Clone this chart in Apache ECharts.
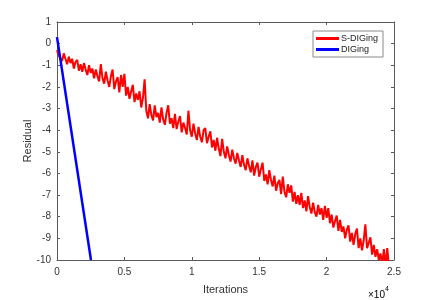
<!DOCTYPE html>
<html>
<head>
<meta charset="utf-8">
<script src="https://cdn.jsdelivr.net/npm/echarts@6/dist/echarts.min.js"></script>
<style>
html,body{margin:0;padding:0;background:#fff;}
#chart{width:436px;height:300px;}
</style>
</head>
<body>
<div id="chart"></div>
<script>
// Sampling step of the S-DIGing curve (iterations between readings)
const sdStep = 125;
// S-DIGing residual readings (log scale), one per sdStep iterations, from 0
const sdigingValues = [
  -0.3, -0.55, -0.5, -0.8, -0.45, -0.7, -0.95, -0.6,
  -0.9, -0.7, -1.15, -0.85, -0.75, -1.25, -0.95, -1.3,
  -0.9, -1.2, -1.45, -1.0, -1.35, -1.15, -1.6, -1.2,
  -1.5, -1.75, -0.95, -1.6, -1.85, -1.3, -1.7, -2.0,
  -1.5, -1.2, -2.1, -1.75, -1.55, -2.25, -1.45, -2.0,
  -1.4, -2.4, -2.0, -2.55, -2.2, -1.9, -2.7, -2.3,
  -2.6, -2.2, -2.95, -2.5, -1.65, -3.1, -3.45, -2.8,
  -3.3, -3.55, -2.85, -3.4, -3.2, -3.65, -2.95, -3.5,
  -3.75, -3.2, -2.85, -3.7, -3.45, -3.9, -3.25, -3.95,
  -3.6, -3.35, -4.1, -3.65, -3.9, -4.2, -3.1, -4.0,
  -4.3, -3.7, -4.15, -4.45, -3.85, -4.3, -4.55, -4.0,
  -3.9, -4.6, -4.3, -4.05, -4.8, -4.45, -4.95, -4.35,
  -4.85, -5.2, -4.4, -5.0, -5.3, -4.75, -5.15, -5.45,
  -4.9, -5.3, -5.55, -5.05, -5.4, -5.7, -5.15, -5.6,
  -5.85, -5.3, -5.65, -5.95, -5.4, -6.1, -5.7, -5.5,
  -6.15, -5.8, -5.5, -6.35, -6.05, -6.5, -5.85, -6.3,
  -6.6, -6.1, -6.8, -6.45, -6.3, -6.95, -6.15, -6.85,
  -7.1, -6.5, -6.9, -6.55, -7.3, -6.85, -7.4, -7.0,
  -7.45, -6.9, -7.6, -7.25, -7.75, -7.05, -7.55, -7.85,
  -7.35, -7.8, -8.0, -7.45, -7.9, -7.6, -8.15, -7.5,
  -8.05, -7.6, -8.3, -7.9, -8.5, -8.2, -7.95, -8.65,
  -8.15, -8.7, -8.45, -9.0, -8.6, -8.4, -9.15, -8.75,
  -9.3, -8.8, -8.55, -9.45, -9.0, -9.55, -9.1, -8.35,
  -9.45, -9.2, -8.95, -9.75, -9.3, -9.85, -9.5, -10.0,
  -9.7, -10.2, -9.5, -10.3, -9.45, -10.3, -10.2
];
// DIGing: straight descent
const digingIters = [0, 2520];
const digingValues = [0.3, -10];

const xTicks = ['0', '0.5', '1', '1.5', '2', '2.5'];
const seriesNames = ['S-DIGing', 'DIGing'];

const sdData = sdigingValues.map((v, i) => [i * sdStep, v]);
const dgData = digingIters.map((x, i) => [x, digingValues[i]]);

const axisCol = '#5a5a5a';
const txtCol = '#333';
const font = 'Liberation Sans, Arial, Helvetica, sans-serif';

const chart = echarts.init(document.getElementById('chart'), null, {renderer: 'canvas'});
chart.setOption({
  animation: false,
  backgroundColor: '#fff',
  grid: {left: 57, right: 42, top: 22, bottom: 32, containLabel: false},
  legend: {
    data: seriesNames,
    orient: 'vertical',
    left: 313, top: 31,
    padding: [3, 5, 3, 3],
    itemGap: 2,
    itemWidth: 23, itemHeight: 3,
    icon: 'rect',
    borderColor: '#8a8a8a', borderWidth: 1,
    backgroundColor: '#fff',
    textStyle: {fontFamily: font, fontSize: 9, color: '#222', padding: [0, 0, 0, -3]}
  },
  xAxis: [{
    type: 'value', min: 0, max: 25000, interval: 5000,
    position: 'bottom',
    name: 'Iterations', nameLocation: 'middle', nameGap: 24,
    nameTextStyle: {fontFamily: font, fontSize: 11, color: txtCol},
    axisLine: {show: true, onZero: false, lineStyle: {color: axisCol, width: 1}},
    axisTick: {show: true, inside: true, length: 3, lineStyle: {color: axisCol}},
    axisLabel: {fontFamily: font, fontSize: 10, color: txtCol, margin: 7,
      formatter: v => xTicks[Math.round(v / 5000)]},
    splitLine: {show: false}
  }, {
    type: 'value', min: 0, max: 25000, interval: 5000,
    position: 'top',
    axisLine: {show: true, onZero: false, lineStyle: {color: axisCol, width: 1}},
    axisTick: {show: true, inside: true, length: 3, lineStyle: {color: axisCol}},
    axisLabel: {show: false},
    splitLine: {show: false}
  }],
  yAxis: [{
    type: 'value', min: -10, max: 1, interval: 1,
    position: 'left',
    name: 'Residual', nameLocation: 'middle', nameGap: 24,
    nameMoveOverlap: false,
    nameTextStyle: {fontFamily: font, fontSize: 11, color: txtCol},
    axisLine: {show: true, onZero: false, lineStyle: {color: axisCol, width: 1}},
    axisTick: {show: true, inside: true, length: 3, lineStyle: {color: axisCol}},
    axisLabel: {fontFamily: font, fontSize: 10, color: txtCol, margin: 6},
    splitLine: {show: false}
  }, {
    type: 'value', min: -10, max: 1, interval: 1,
    position: 'right',
    axisLine: {show: true, onZero: false, lineStyle: {color: axisCol, width: 1}},
    axisTick: {show: true, inside: true, length: 3, lineStyle: {color: axisCol}},
    axisLabel: {show: false},
    splitLine: {show: false}
  }],
  series: [{
    name: seriesNames[0], type: 'line', data: sdData,
    xAxisIndex: 0, yAxisIndex: 0,
    showSymbol: false, symbol: 'none', clip: true,
    lineStyle: {color: '#ff0000', width: 2},
    itemStyle: {color: '#ff0000'}
  }, {
    name: seriesNames[1], type: 'line', data: dgData,
    xAxisIndex: 0, yAxisIndex: 0,
    showSymbol: false, symbol: 'none', clip: true,
    lineStyle: {color: '#0000ff', width: 2.5},
    itemStyle: {color: '#0000ff'}
  }],
  graphic: [{
    type: 'text', left: 368, top: 286,
    style: {
      text: '{a|×10}{b|4}',
      rich: {
        a: {fontFamily: font, fontSize: 10, color: txtCol, verticalAlign: 'bottom'},
        b: {fontFamily: font, fontSize: 7, color: txtCol, verticalAlign: 'top', padding: [0, 0, 7, 0]}
      }
    }
  }]
});
</script>
</body>
</html>
